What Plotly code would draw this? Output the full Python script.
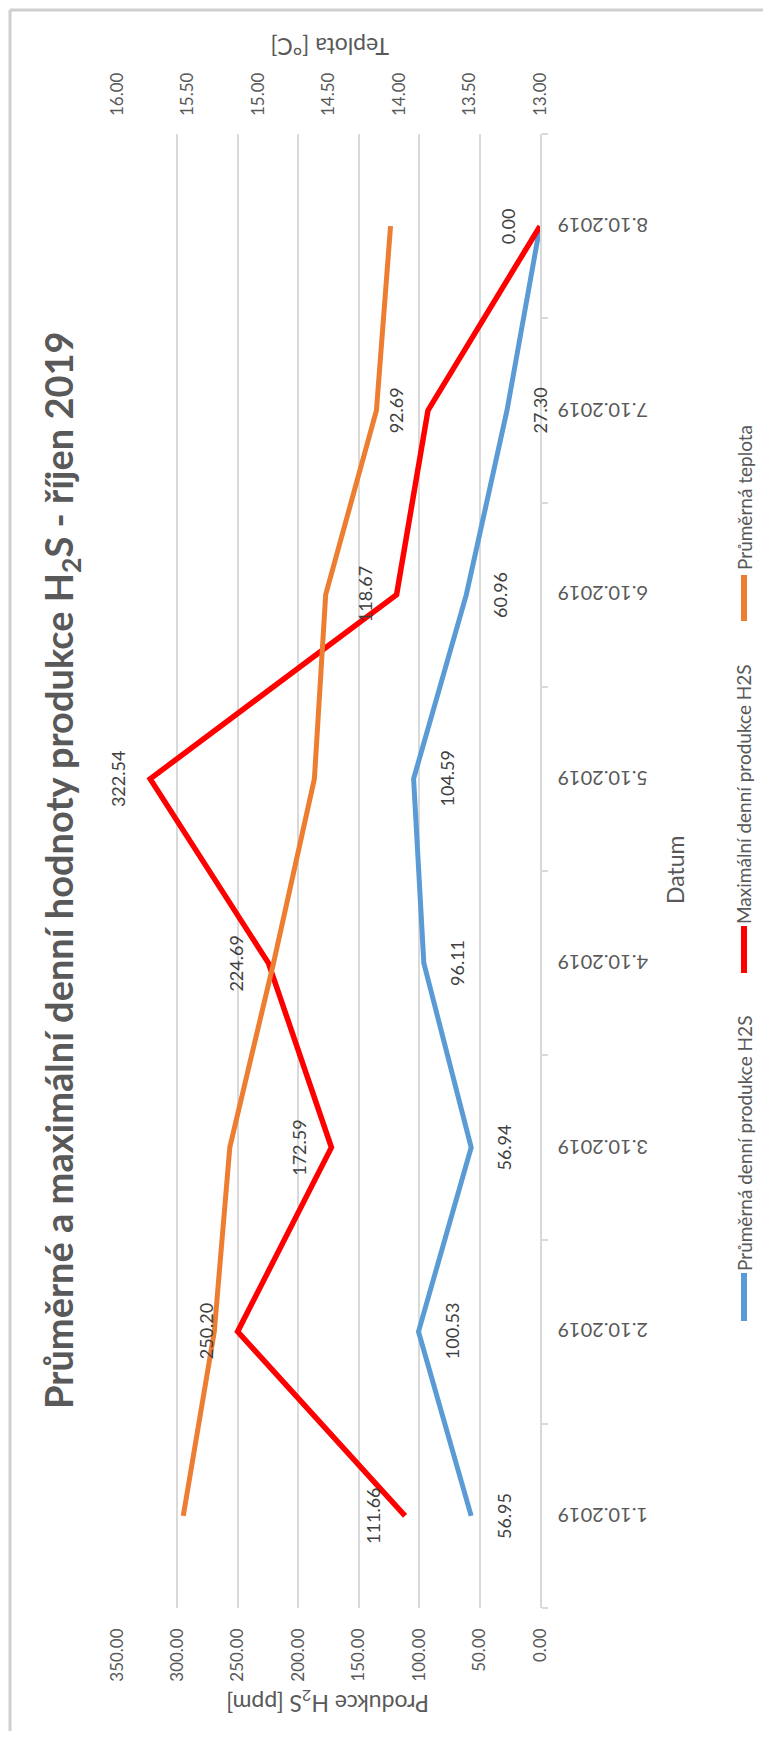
import plotly.graph_objects as go

# data
dates = ["1.10.2019", "2.10.2019", "3.10.2019", "4.10.2019",
         "5.10.2019", "6.10.2019", "7.10.2019", "8.10.2019"]
avg_h2s = [56.95, 100.53, 56.94, 96.11, 104.59, 60.96, 27.30, 0.00]
max_h2s = [111.66, 250.20, 172.59, 224.69, 322.54, 118.67, 92.69, 0.00]
avg_temp = [15.53, 15.31, 15.20, 14.89, 14.60, 14.52, 14.16, 14.06]

h2s_ticks = [0, 50, 100, 150, 200, 250, 300, 350]
temp_ticks = [13.0, 13.5, 14.0, 14.5, 15.0, 15.5, 16.0]

BLUE = "#5B9BD5"
RED = "#FF0000"
ORANGE = "#ED7D31"
GRID = "#D9D9D9"
TXT = "#595959"
LBL = "#404040"
FONT = "Lato, Calibri, sans-serif"

# the page body adds an 8px margin, so the figure is drawn 8px in from the corner
OFF = 8
W, H = 771 - 2 * OFF, 1739 - 2 * OFF
L, T = 117 - OFF, 134 - OFF
PW, PH = 423, 1474
R, B = W - L - PW, H - T - PH


def px(x):
    # screen pixel -> paper x
    return (x - OFF - L) / PW


def py(y):
    # screen pixel -> paper y
    return (T + PH - (y - OFF)) / PH


def note(x, y, text, size, angle, color=TXT, xref="paper", yref="paper", **kw):
    return dict(x=x, y=y, xref=xref, yref=yref, text=text, showarrow=False, textangle=angle,
                xanchor="center", yanchor="middle",
                font=dict(family=FONT, size=size, color=color), **kw)


fig = go.Figure()

fig.add_trace(go.Scatter(x=avg_h2s, y=dates, mode="lines", name="Průměrná denní produkce H2S",
                         line=dict(color=BLUE, width=5), xaxis="x", yaxis="y"))
fig.add_trace(go.Scatter(x=max_h2s, y=dates, mode="lines", name="Maximální denní produkce H2S",
                         line=dict(color=RED, width=5.5), xaxis="x", yaxis="y"))
fig.add_trace(go.Scatter(x=avg_temp, y=dates, mode="lines", name="Průměrná teplota",
                         line=dict(color=ORANGE, width=5), xaxis="x2", yaxis="y"))

annotations = []

# data labels (rotated like the rest of the chart)
for d, v in zip(dates[:-1], avg_h2s[:-1]):
    annotations.append(note(v, d, f"{v:.2f}", 18, -90, LBL, "x", "y", xshift=33))
for d, v in zip(dates, max_h2s):
    annotations.append(note(v, d, f"{v:.2f}", 18, -90, LBL, "x", "y", xshift=-32))

# date labels, upside down
for d in dates:
    annotations.append(note(px(603), d, d, 20, 180, TXT, "paper", "y"))

# title
annotations.append(note(px(61), py(870),
                        "<b>Průměrné a maximální denní hodnoty produkce H<sub>2</sub>S - říjen 2019</b>",
                        38, -90))

# axis titles
annotations.append(note(px(330), py(47), "Teplota [°C]", 23, 180))
annotations.append(note(px(328), py(1703), "Produkce H<sub>2</sub>S [ppm]", 23, 180))
annotations.append(note(px(675), py(870), "Datum", 23, -90))

# legend drawn by hand, rotated
legend_items = [
    ("Průměrná denní produkce H2S", BLUE, 1273, 1321, 1144),
    ("Maximální denní produkce H2S", RED, 926, 973, 794),
    ("Průměrná teplota", ORANGE, 575, 621, 498),
]
shapes = []
for name, col, y_top, y_bot, y_txt in legend_items:
    shapes.append(dict(type="line", xref="paper", yref="paper", x0=px(744), x1=px(744),
                       y0=py(y_bot), y1=py(y_top), line=dict(color=col, width=6)))
    annotations.append(note(px(744), py(y_txt), name, 19, -90))

# chart border: left and top edge only, the rest runs off the page
BORDER = "#CFCFCF"
shapes.append(dict(type="line", xref="paper", yref="paper", x0=px(10), x1=px(10),
                   y0=py(1739), y1=py(10), line=dict(color=BORDER, width=3)))
shapes.append(dict(type="line", xref="paper", yref="paper", x0=px(10), x1=px(771),
                   y0=py(10), y1=py(10), line=dict(color=BORDER, width=3)))

fig.update_layout(
    width=W, height=H, autosize=False,
    margin=dict(l=L, r=R, t=T, b=B, pad=0),
    paper_bgcolor="white", plot_bgcolor="white",
    showlegend=False,
    font=dict(family=FONT, color=TXT),
    xaxis=dict(range=[350, 0], tickvals=h2s_ticks, tickformat=".2f", tickangle=-90,
               showgrid=True, gridcolor=GRID, gridwidth=1.5, zeroline=False, showline=False,
               ticks="", ticklabelstandoff=16, tickfont=dict(family=FONT, size=17, color=TXT)),
    xaxis2=dict(range=[16, 13], tickvals=temp_ticks, tickformat=".2f", tickangle=-90,
                overlaying="x", side="top", anchor="y", showgrid=False, zeroline=False,
                showline=False, ticks="", ticklabelstandoff=17,
                tickfont=dict(family=FONT, size=17, color=TXT)),
    yaxis=dict(type="category", categoryorder="array", categoryarray=dates,
               range=[-0.5, 7.5], side="right", showticklabels=False, showgrid=False,
               showline=True, linecolor=GRID, linewidth=1.5, ticks="outside",
               tickson="boundaries", ticklen=6, tickcolor=GRID, tickwidth=1.5),
    annotations=annotations,
    shapes=shapes,
)

fig.write_html("out.html")
